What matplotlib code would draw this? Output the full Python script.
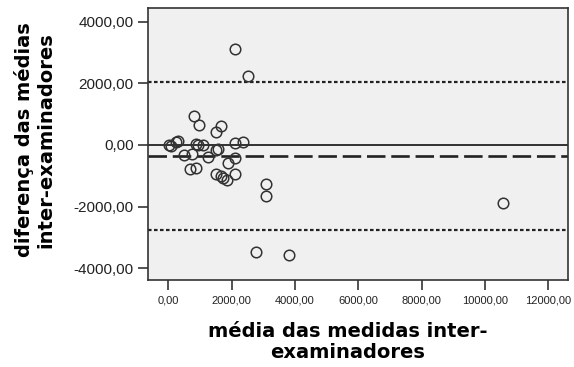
"""
Bland-Altman plot: inter-examiner agreement.
"""

import matplotlib
matplotlib.use("Agg")
import matplotlib.pyplot as plt
from matplotlib.ticker import FuncFormatter


# mean of the two examiners' measurements (x) and their difference (y)
mean_values = [
    20, 90, 230, 310, 500, 740, 820, 980, 690, 870,
    880, 950, 1110, 1260, 1500, 1660, 1510, 1560, 1510, 1650,
    1740, 1860, 2100, 1900, 2110, 2100, 2370, 2110, 2530, 3090,
    3090, 2770, 3810, 10570,
]
diff_values = [
    10, -30, 90, 140, -320, -290, 950, 640, -780, -760,
    30, 0, 0, -400, 420, 620, -160, -120, -940, -1020,
    -1060, -1130, -940, -590, -430, 80, 110, 3110, 2240, -1270,
    -1650, -3480, -3560, -1890,
]

mean_diff = -347
upper_limit = 2050
lower_limit = -2740

x_ticks = [0, 2000, 4000, 6000, 8000, 10000, 12000]
y_ticks = [-4000, -2000, 0, 2000, 4000]

x_label = "média das medidas inter-\nexaminadores"
y_label = "diferença das médias\ninter-examinadores"


def comma_format(value, pos):
    return f"{value:.2f}".replace(".", ",")


fig = plt.figure(figsize=(5.74, 3.67), dpi=100)
ax = fig.add_axes([0.257, 0.2357, 0.7317, 0.7417])
ax.set_facecolor("#f0f0f0")

ax.axhline(0, color="#222222", linewidth=1.3, zorder=1)
ax.axhline(mean_diff, color="#222222", linewidth=1.9,
           dashes=(7, 2.2), zorder=1)
ax.axhline(upper_limit, color="#222222", linewidth=1.6,
           dashes=(1.6, 1.1), zorder=1)
ax.axhline(lower_limit, color="#222222", linewidth=1.6,
           dashes=(1.6, 1.1), zorder=1)

ax.plot(
    mean_values,
    diff_values,
    linestyle="none",
    marker="o",
    markersize=7.6,
    markerfacecolor="none",
    markeredgecolor="#333333",
    markeredgewidth=1.1,
    zorder=2,
)

ax.set_xlim(-657, 12613)
ax.set_ylim(-4390, 4429)
ax.set_xticks(x_ticks)
ax.set_yticks(y_ticks)
ax.xaxis.set_major_formatter(FuncFormatter(comma_format))
ax.yaxis.set_major_formatter(FuncFormatter(comma_format))

for spine in ax.spines.values():
    spine.set_color("#333333")
    spine.set_linewidth(1.2)

ax.tick_params(axis="both", direction="out", length=7.5, width=1.3,
               color="#444444")
ax.tick_params(axis="x", labelsize=8, pad=3)
ax.tick_params(axis="y", labelsize=11, pad=2.5)

for label in ax.get_xticklabels() + ax.get_yticklabels():
    label.set_fontfamily("Liberation Sans")
    label.set_color("#222222")

ax.set_xlabel(x_label, fontsize=14, fontweight="bold",
              family="DejaVu Sans", va="center", linespacing=1.15)
ax.xaxis.set_label_coords(0.476, -0.225)

ax.set_ylabel(y_label, fontsize=14, fontweight="bold",
              family="DejaVu Sans", va="center", linespacing=1.15)
ax.yaxis.set_label_coords(-0.268, 0.516)

fig.savefig("out.png", dpi=100)
plt.close(fig)
